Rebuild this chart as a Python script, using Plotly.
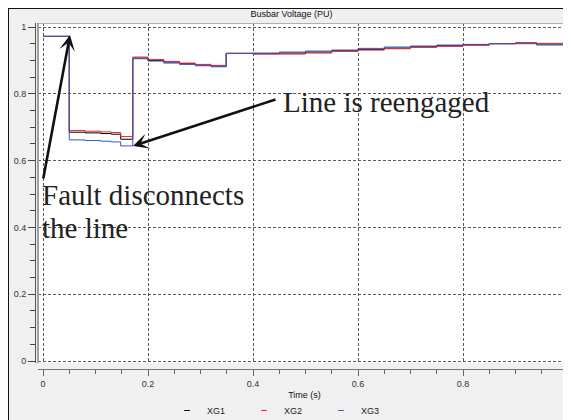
import plotly.graph_objects as go

# ---- data ----
time_s = [0, 0.05, 0.08, 0.11, 0.13, 0.148, 0.171, 0.2, 0.23, 0.26, 0.29, 0.32, 0.349,
          0.4, 0.45, 0.5, 0.55, 0.6, 0.65, 0.7, 0.75, 0.8, 0.85, 0.9, 0.94, 1.0]
xg1 = [0.972, 0.685, 0.683, 0.681, 0.679, 0.664, 0.907, 0.900, 0.895, 0.890, 0.886, 0.883, 0.921,
       0.920, 0.922, 0.925, 0.929, 0.933, 0.937, 0.941, 0.944, 0.947, 0.950, 0.952, 0.949, 0.949]
xg2 = [0.972, 0.690, 0.688, 0.686, 0.684, 0.672, 0.910, 0.903, 0.897, 0.892, 0.888, 0.885, 0.921,
       0.919, 0.919, 0.922, 0.927, 0.931, 0.935, 0.939, 0.942, 0.945, 0.950, 0.953, 0.951, 0.951]
xg3 = [0.972, 0.662, 0.660, 0.658, 0.656, 0.644, 0.905, 0.898, 0.892, 0.888, 0.884, 0.881, 0.921,
       0.922, 0.925, 0.928, 0.931, 0.936, 0.940, 0.943, 0.946, 0.948, 0.950, 0.950, 0.946, 0.946]
series_names = ["XG1", "XG2", "XG3"]
series_colors = ["#000000", "#e8262b", "#3a55c0"]
tick_vals = [0, 0.2, 0.4, 0.6, 0.8, 1]

# page offset of the figure (browser body margin)
OFF = 8
W, H = 571 - OFF, 420 - OFF
ML, MR, MT, MB = 35 - OFF, 0, 23 - OFF, 420 - 369
PW, PH = W - ML - MR, H - MT - MB


def px(x):
    """page x pixel -> paper fraction"""
    return (x - OFF - ML) / PW


def py(y):
    """page y pixel -> paper fraction"""
    return (H - MB - (y - OFF)) / PH


fig = go.Figure()
for name, vals, col in zip(series_names, [xg1, xg2, xg3], series_colors):
    fig.add_trace(go.Scatter(x=time_s, y=vals, mode="lines", line=dict(color=col, width=1, shape="hv"),
                             name=name, showlegend=False))
# legend entries (short dash symbols)
for name, col in zip(series_names, series_colors):
    fig.add_trace(go.Scatter(x=[None], y=[None], mode="markers", name=name,
                             marker=dict(symbol="line-ew-open", size=4, color=col,
                                         line=dict(color=col, width=1))))

grid = dict(gridcolor="#5a5a5a", gridwidth=1, griddash="3px,2px", zeroline=False)
fig.update_xaxes(range=[-5 / 525, -5 / 525 + 533 / 525], domain=[3 / PW, 1], anchor="free", position=0,
                 tickvals=tick_vals, ticks="outside", ticklen=6, tickcolor="#666", tickwidth=1,
                 showline=True, linecolor="#777", linewidth=1,
                 ticklabelposition="outside", ticklabeloverflow="allow",
                 minor=dict(dtick=0.05, tick0=0, ticks="outside", ticklen=4, tickcolor="#666", showgrid=False),
                 tickfont=dict(family="Liberation Sans, Arial", size=9, color="#333"),
                 title=dict(text="Time (s)", font=dict(family="Liberation Sans, Arial", size=9, color="#111"),
                            standoff=3),
                 **grid)
fig.update_yaxes(range=[-2 / 334, -2 / 334 + 340 / 334], domain=[6 / PH, 1], anchor="free", position=0,
                 tickvals=tick_vals, ticks="outside", ticklen=7, tickcolor="#444", tickwidth=1,
                 showline=True, linecolor="#555", linewidth=1,
                 minor=dict(dtick=0.05, tick0=0, ticks="outside", ticklen=5, tickcolor="#444", showgrid=False),
                 tickfont=dict(family="Liberation Sans, Arial", size=9, color="#333"),
                 **grid)

shapes = [
    # black frame
    dict(type="line", xref="paper", yref="paper", x0=px(8.5), x1=px(8.5), y0=py(8), y1=py(425),
         line=dict(color="#111", width=1)),
    dict(type="line", xref="paper", yref="paper", x0=px(8), x1=px(575), y0=py(8.5), y1=py(8.5),
         line=dict(color="#111", width=1)),
    # plot border (gray)
    dict(type="line", xref="paper", yref="paper", x0=px(38), x1=px(575), y0=py(23.5), y1=py(23.5),
         line=dict(color="#b0b0b0", width=1)),
    dict(type="line", xref="paper", yref="paper", x0=px(38), x1=px(38), y0=py(23), y1=py(363),
         line=dict(color="#a0a0a0", width=2)),
]

serif = "Liberation Serif, Times New Roman, serif"
annotations = [
    dict(x=0.0514, y=0.976, xref="x", yref="y", ax=-27, ay=145, text="", showarrow=True,
         arrowhead=3, arrowsize=1.0, arrowwidth=2.6, arrowcolor="#111"),
    dict(x=0.1714, y=0.6437, xref="x", yref="y", ax=144, ay=-47, text="", showarrow=True,
         arrowhead=3, arrowsize=1.0, arrowwidth=2.6, arrowcolor="#111"),
    dict(x=(281 - 43) / 525, y=(361 - 102) / 334, xref="x", yref="y", text="Line is reengaged",
         showarrow=False, xanchor="left", yanchor="middle", font=dict(family=serif, size=29, color="#222")),
    dict(x=(40 - 43) / 525, y=(361 - 195) / 334, xref="x", yref="y", text="Fault disconnects",
         showarrow=False, xanchor="left", yanchor="middle", font=dict(family=serif, size=29, color="#222")),
    dict(x=(40 - 43) / 525, y=(361 - 228) / 334, xref="x", yref="y", text="the line",
         showarrow=False, xanchor="left", yanchor="middle", font=dict(family=serif, size=29, color="#222")),
]

fig.update_layout(
    width=W, height=H, margin=dict(l=ML, r=MR, t=MT, b=MB, pad=0, autoexpand=False),
    paper_bgcolor="#f0f0f0", plot_bgcolor="white",
    title=dict(text="Busbar Voltage (PU)", x=px(305), xanchor="center", y=1 - (14 - OFF) / H,
               yanchor="middle", font=dict(family="Liberation Sans, Arial", size=9, color="#111")),
    showlegend=True,
    legend=dict(orientation="h", x=px(167), xanchor="left", y=py(396), yanchor="top",
                entrywidth=32, entrywidthmode="pixels", bgcolor="rgba(0,0,0,0)",
                font=dict(family="Liberation Sans, Arial", size=9, color="#222"), itemwidth=30),
    shapes=shapes, annotations=annotations,
)

fig.write_html("out.html")
